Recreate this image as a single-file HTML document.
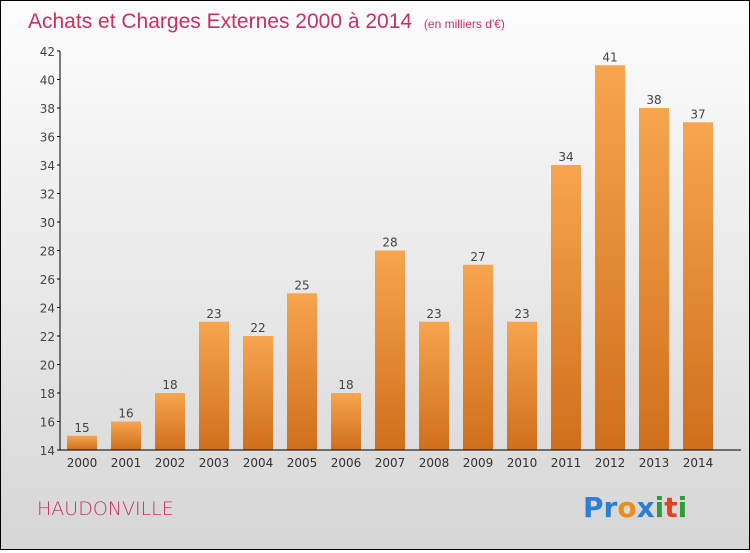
<!DOCTYPE html>
<html><head><meta charset="utf-8"><style>
html,body{margin:0;padding:0}
body{width:750px;height:550px;overflow:hidden;font-family:"DejaVu Sans","Liberation Sans",sans-serif}
#wrap{position:absolute;left:0;top:0;width:748px;height:548px;border:1px solid #000;background:linear-gradient(#fdfdfd,#d6d6d6)}
</style></head><body>
<div id="wrap">
<svg width="748" height="548">
<defs><linearGradient id="bg" x1="0" y1="0" x2="0" y2="1"><stop offset="0" stop-color="#f7a54f"/><stop offset="1" stop-color="#cf6f1c"/></linearGradient></defs>
<text x="27" y="27" font-size="21" fill="#c8305e" font-family="Liberation Sans, sans-serif">Achats et Charges Externes 2000 à 2014 <tspan font-size="12" dx="6">(en milliers d'€)</tspan></text>
<g id="grid"></g>
<g id="bars"></g>
<line x1="59" y1="50" x2="59" y2="449" stroke="#000"/>
<line x1="59" y1="449" x2="740" y2="449" stroke="#000"/>
<text x="36" y="514" font-size="19" fill="#c8305e" font-weight="200">HAUDONVILLE</text>
<text x="582" y="516" font-size="28" font-weight="bold" font-family="DejaVu Sans, sans-serif"><tspan fill="#2d7fd4">Pr</tspan><tspan fill="#f08a1c">o</tspan><tspan fill="#2d7fd4">x</tspan><tspan fill="#2e9c3a">i</tspan><tspan fill="#e8401c">t</tspan><tspan fill="#2e9c3a">i</tspan></text>
</svg></div>
<script>
const categories=["2000","2001","2002","2003","2004","2005","2006","2007","2008","2009","2010","2011","2012","2013","2014"];
const values=[15,16,18,23,22,25,18,28,23,27,23,34,41,38,37];
const yTicks=[14,16,18,20,22,24,26,28,30,32,34,36,38,40,42];
const NS="http://www.w3.org/2000/svg";
const y=v=>449-(v-14)*(399/28);
const x=i=>81+i*44;
const svg=document.querySelector("svg"),g=document.getElementById("bars");
function mk(t,a,p){const e=document.createElementNS(NS,t);for(const k in a)e.setAttribute(k,a[k]);(p||g).appendChild(e);return e;}
yTicks.forEach(t=>{
 const l=mk("line",{x1:56,x2:59,y1:y(t),y2:y(t),stroke:"#000"});
 
 
 const tx=mk("text",{x:54,y:y(t)+5,"text-anchor":"end","font-size":12,fill:"#444"});
 tx.textContent=t;
 
 
});
categories.forEach((c,i)=>{
 const r=mk("rect",{x:x(i)-15,y:y(values[i]),width:30,height:449-y(values[i]),fill:"url(#bg)"});
 
 
 const v=mk("text",{x:x(i),y:y(values[i])-4,"text-anchor":"middle","font-size":12,fill:"#444"});
 v.textContent=values[i];
 
 
 const t=mk("text",{x:x(i),y:466,"text-anchor":"middle","font-size":12,fill:"#333"});
 t.textContent=c;
 
 
});
</script>
</body></html>
